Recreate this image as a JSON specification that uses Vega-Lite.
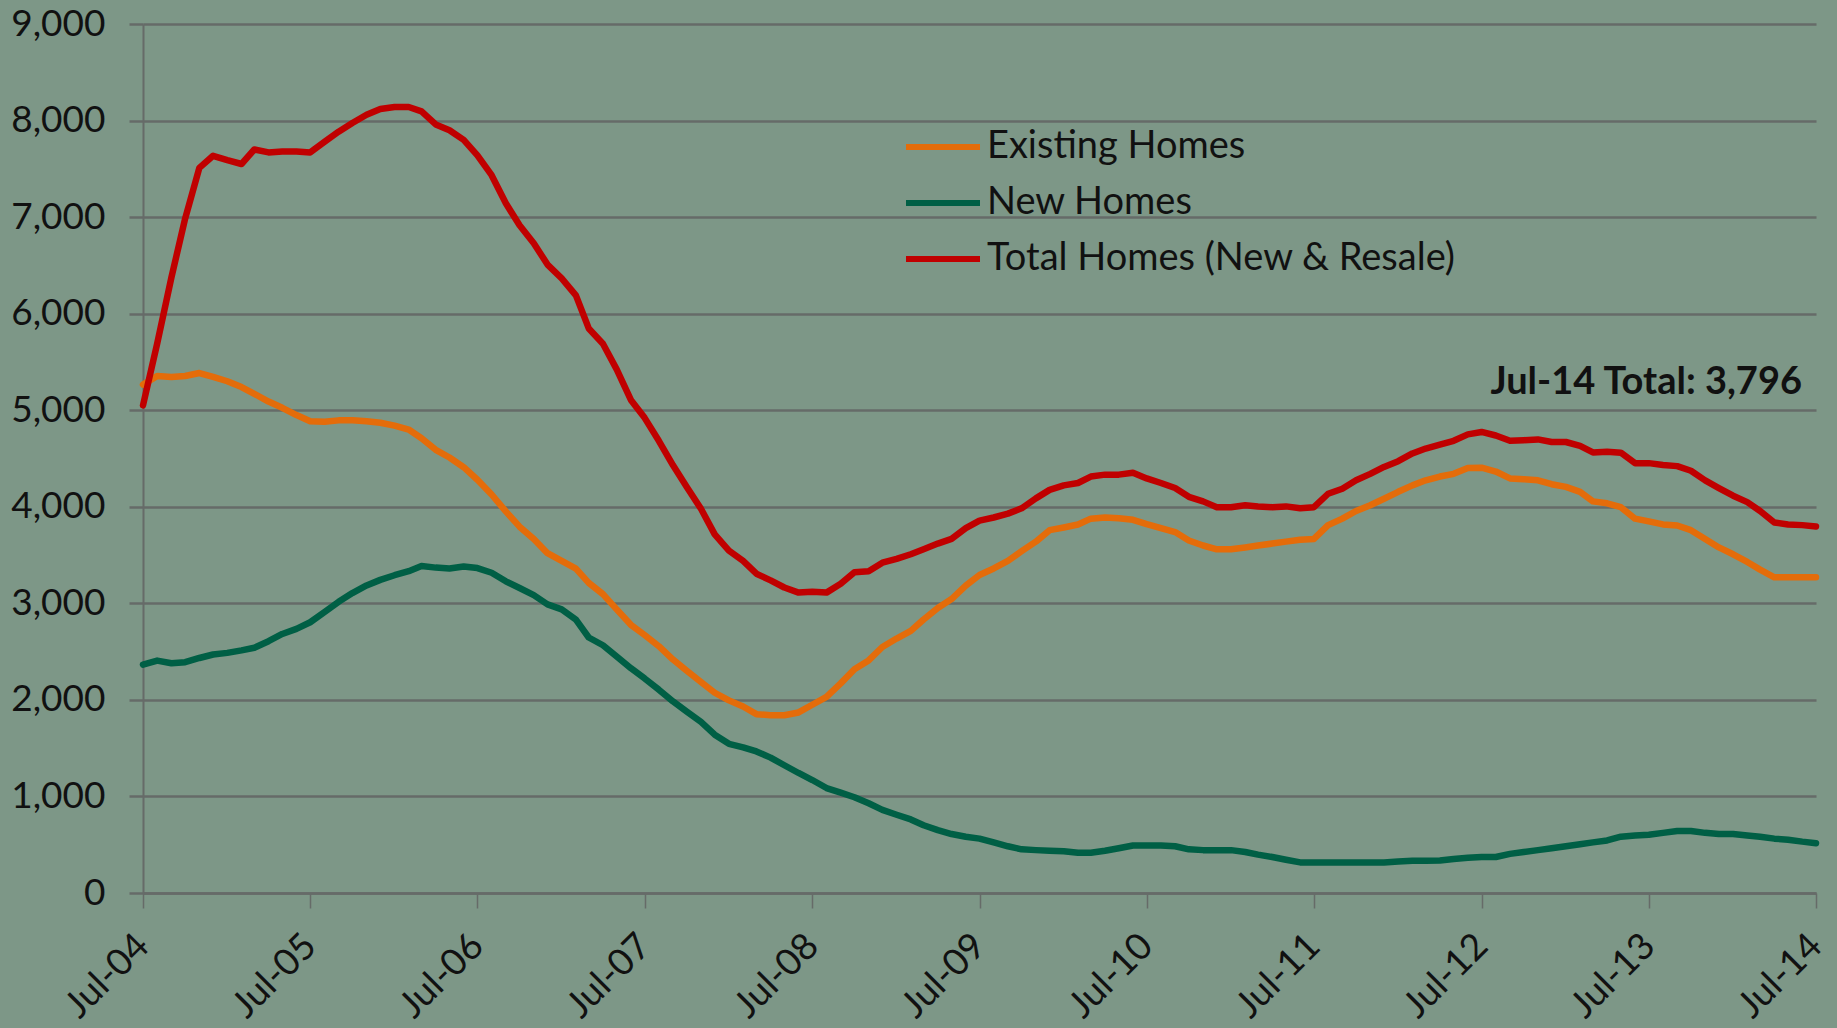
{
  "$schema": "https://vega.github.io/schema/vega-lite/v6.json",
  "width": 1673,
  "height": 869,
  "autosize": {"type": "none"},
  "padding": {"left": 143, "top": 24, "right": 21, "bottom": 135},
  "background": "#7D9787",
  "config": {
    "view": {"stroke": null},
    "font": "Lato",
    "axis": {"labelFont": "Lato", "labelColor": "#111111", "titleColor": "#111111"}
  },
  "datasets": {
    "existing": [
      {"date":"2004-07-01","value":5265},{"date":"2004-08-01","value":5355},{"date":"2004-09-01","value":5345},{"date":"2004-10-01","value":5355},{"date":"2004-11-01","value":5385},{"date":"2004-12-01","value":5345},
      {"date":"2005-01-01","value":5300},{"date":"2005-02-01","value":5240},{"date":"2005-03-01","value":5170},{"date":"2005-04-01","value":5090},{"date":"2005-05-01","value":5025},{"date":"2005-06-01","value":4950},{"date":"2005-07-01","value":4885},{"date":"2005-08-01","value":4880},{"date":"2005-09-01","value":4895},{"date":"2005-10-01","value":4895},{"date":"2005-11-01","value":4885},{"date":"2005-12-01","value":4870},
      {"date":"2006-01-01","value":4840},{"date":"2006-02-01","value":4800},{"date":"2006-03-01","value":4710},{"date":"2006-04-01","value":4590},{"date":"2006-05-01","value":4510},{"date":"2006-06-01","value":4410},{"date":"2006-07-01","value":4280},{"date":"2006-08-01","value":4127},{"date":"2006-09-01","value":3952},{"date":"2006-10-01","value":3794},{"date":"2006-11-01","value":3667},{"date":"2006-12-01","value":3519},
      {"date":"2007-01-01","value":3439},{"date":"2007-02-01","value":3360},{"date":"2007-03-01","value":3212},{"date":"2007-04-01","value":3095},{"date":"2007-05-01","value":2937},{"date":"2007-06-01","value":2778},{"date":"2007-07-01","value":2672},{"date":"2007-08-01","value":2556},{"date":"2007-09-01","value":2418},{"date":"2007-10-01","value":2302},{"date":"2007-11-01","value":2185},{"date":"2007-12-01","value":2074},
      {"date":"2008-01-01","value":1995},{"date":"2008-02-01","value":1931},{"date":"2008-03-01","value":1852},{"date":"2008-04-01","value":1841},{"date":"2008-05-01","value":1841},{"date":"2008-06-01","value":1870},{"date":"2008-07-01","value":1950},{"date":"2008-08-01","value":2032},{"date":"2008-09-01","value":2171},{"date":"2008-10-01","value":2317},{"date":"2008-11-01","value":2409},{"date":"2008-12-01","value":2548},
      {"date":"2009-01-01","value":2635},{"date":"2009-02-01","value":2714},{"date":"2009-03-01","value":2833},{"date":"2009-04-01","value":2952},{"date":"2009-05-01","value":3044},{"date":"2009-06-01","value":3183},{"date":"2009-07-01","value":3294},{"date":"2009-08-01","value":3361},{"date":"2009-09-01","value":3440},{"date":"2009-10-01","value":3540},{"date":"2009-11-01","value":3639},{"date":"2009-12-01","value":3758},
      {"date":"2010-01-01","value":3786},{"date":"2010-02-01","value":3817},{"date":"2010-03-01","value":3877},{"date":"2010-04-01","value":3889},{"date":"2010-05-01","value":3881},{"date":"2010-06-01","value":3865},{"date":"2010-07-01","value":3820},{"date":"2010-08-01","value":3778},{"date":"2010-09-01","value":3738},{"date":"2010-10-01","value":3651},{"date":"2010-11-01","value":3599},{"date":"2010-12-01","value":3560},
      {"date":"2011-01-01","value":3560},{"date":"2011-02-01","value":3579},{"date":"2011-03-01","value":3599},{"date":"2011-04-01","value":3619},{"date":"2011-05-01","value":3639},{"date":"2011-06-01","value":3659},{"date":"2011-07-01","value":3667},{"date":"2011-08-01","value":3810},{"date":"2011-09-01","value":3877},{"date":"2011-10-01","value":3956},{"date":"2011-11-01","value":4016},{"date":"2011-12-01","value":4083},
      {"date":"2012-01-01","value":4155},{"date":"2012-02-01","value":4222},{"date":"2012-03-01","value":4274},{"date":"2012-04-01","value":4313},{"date":"2012-05-01","value":4341},{"date":"2012-06-01","value":4401},{"date":"2012-07-01","value":4405},{"date":"2012-08-01","value":4365},{"date":"2012-09-01","value":4294},{"date":"2012-10-01","value":4286},{"date":"2012-11-01","value":4274},{"date":"2012-12-01","value":4234},
      {"date":"2013-01-01","value":4206},{"date":"2013-02-01","value":4155},{"date":"2013-03-01","value":4056},{"date":"2013-04-01","value":4036},{"date":"2013-05-01","value":3996},{"date":"2013-06-01","value":3877},{"date":"2013-07-01","value":3849},{"date":"2013-08-01","value":3817},{"date":"2013-09-01","value":3806},{"date":"2013-10-01","value":3758},{"date":"2013-11-01","value":3667},{"date":"2013-12-01","value":3579},
      {"date":"2014-01-01","value":3508},{"date":"2014-02-01","value":3429},{"date":"2014-03-01","value":3349},{"date":"2014-04-01","value":3270},{"date":"2014-05-01","value":3270},{"date":"2014-06-01","value":3270},{"date":"2014-07-01","value":3270}
    ],
    "newhomes": [
      {"date":"2004-07-01","value":2365},{"date":"2004-08-01","value":2407},{"date":"2004-09-01","value":2380},{"date":"2004-10-01","value":2390},{"date":"2004-11-01","value":2434},{"date":"2004-12-01","value":2470},
      {"date":"2005-01-01","value":2487},{"date":"2005-02-01","value":2513},{"date":"2005-03-01","value":2540},{"date":"2005-04-01","value":2608},{"date":"2005-05-01","value":2683},{"date":"2005-06-01","value":2735},{"date":"2005-07-01","value":2804},{"date":"2005-08-01","value":2910},{"date":"2005-09-01","value":3016},{"date":"2005-10-01","value":3106},{"date":"2005-11-01","value":3185},{"date":"2005-12-01","value":3243},
      {"date":"2006-01-01","value":3291},{"date":"2006-02-01","value":3333},{"date":"2006-03-01","value":3386},{"date":"2006-04-01","value":3370},{"date":"2006-05-01","value":3360},{"date":"2006-06-01","value":3381},{"date":"2006-07-01","value":3365},{"date":"2006-08-01","value":3317},{"date":"2006-09-01","value":3228},{"date":"2006-10-01","value":3159},{"date":"2006-11-01","value":3085},{"date":"2006-12-01","value":2989},
      {"date":"2007-01-01","value":2937},{"date":"2007-02-01","value":2831},{"date":"2007-03-01","value":2646},{"date":"2007-04-01","value":2566},{"date":"2007-05-01","value":2450},{"date":"2007-06-01","value":2328},{"date":"2007-07-01","value":2222},{"date":"2007-08-01","value":2106},{"date":"2007-09-01","value":1984},{"date":"2007-10-01","value":1878},{"date":"2007-11-01","value":1772},{"date":"2007-12-01","value":1640},
      {"date":"2008-01-01","value":1545},{"date":"2008-02-01","value":1508},{"date":"2008-03-01","value":1466},{"date":"2008-04-01","value":1402},{"date":"2008-05-01","value":1323},{"date":"2008-06-01","value":1243},{"date":"2008-07-01","value":1170},{"date":"2008-08-01","value":1087},{"date":"2008-09-01","value":1040},{"date":"2008-10-01","value":992},{"date":"2008-11-01","value":929},{"date":"2008-12-01","value":861},
      {"date":"2009-01-01","value":810},{"date":"2009-02-01","value":762},{"date":"2009-03-01","value":702},{"date":"2009-04-01","value":651},{"date":"2009-05-01","value":611},{"date":"2009-06-01","value":583},{"date":"2009-07-01","value":563},{"date":"2009-08-01","value":524},{"date":"2009-09-01","value":484},{"date":"2009-10-01","value":452},{"date":"2009-11-01","value":444},{"date":"2009-12-01","value":437},
      {"date":"2010-01-01","value":433},{"date":"2010-02-01","value":417},{"date":"2010-03-01","value":417},{"date":"2010-04-01","value":437},{"date":"2010-05-01","value":464},{"date":"2010-06-01","value":492},{"date":"2010-07-01","value":492},{"date":"2010-08-01","value":492},{"date":"2010-09-01","value":484},{"date":"2010-10-01","value":452},{"date":"2010-11-01","value":444},{"date":"2010-12-01","value":444},
      {"date":"2011-01-01","value":444},{"date":"2011-02-01","value":425},{"date":"2011-03-01","value":397},{"date":"2011-04-01","value":373},{"date":"2011-05-01","value":345},{"date":"2011-06-01","value":317},{"date":"2011-07-01","value":317},{"date":"2011-08-01","value":317},{"date":"2011-09-01","value":317},{"date":"2011-10-01","value":317},{"date":"2011-11-01","value":317},{"date":"2011-12-01","value":317},
      {"date":"2012-01-01","value":325},{"date":"2012-02-01","value":333},{"date":"2012-03-01","value":333},{"date":"2012-04-01","value":337},{"date":"2012-05-01","value":353},{"date":"2012-06-01","value":365},{"date":"2012-07-01","value":373},{"date":"2012-08-01","value":373},{"date":"2012-09-01","value":405},{"date":"2012-10-01","value":425},{"date":"2012-11-01","value":444},{"date":"2012-12-01","value":464},
      {"date":"2013-01-01","value":484},{"date":"2013-02-01","value":504},{"date":"2013-03-01","value":524},{"date":"2013-04-01","value":544},{"date":"2013-05-01","value":583},{"date":"2013-06-01","value":595},{"date":"2013-07-01","value":603},{"date":"2013-08-01","value":623},{"date":"2013-09-01","value":643},{"date":"2013-10-01","value":643},{"date":"2013-11-01","value":623},{"date":"2013-12-01","value":611},
      {"date":"2014-01-01","value":611},{"date":"2014-02-01","value":595},{"date":"2014-03-01","value":583},{"date":"2014-04-01","value":563},{"date":"2014-05-01","value":552},{"date":"2014-06-01","value":532},{"date":"2014-07-01","value":516}
    ],
    "total": [
      {"date":"2004-07-01","value":5050},{"date":"2004-08-01","value":5690},{"date":"2004-09-01","value":6375},{"date":"2004-10-01","value":6985},{"date":"2004-11-01","value":7510},{"date":"2004-12-01","value":7635},
      {"date":"2005-01-01","value":7590},{"date":"2005-02-01","value":7550},{"date":"2005-03-01","value":7700},{"date":"2005-04-01","value":7670},{"date":"2005-05-01","value":7680},{"date":"2005-06-01","value":7680},{"date":"2005-07-01","value":7670},{"date":"2005-08-01","value":7780},{"date":"2005-09-01","value":7885},{"date":"2005-10-01","value":7975},{"date":"2005-11-01","value":8060},{"date":"2005-12-01","value":8120},
      {"date":"2006-01-01","value":8140},{"date":"2006-02-01","value":8140},{"date":"2006-03-01","value":8095},{"date":"2006-04-01","value":7960},{"date":"2006-05-01","value":7900},{"date":"2006-06-01","value":7800},{"date":"2006-07-01","value":7640},{"date":"2006-08-01","value":7434},{"date":"2006-09-01","value":7143},{"date":"2006-10-01","value":6915},{"date":"2006-11-01","value":6730},{"date":"2006-12-01","value":6508},
      {"date":"2007-01-01","value":6365},{"date":"2007-02-01","value":6190},{"date":"2007-03-01","value":5847},{"date":"2007-04-01","value":5688},{"date":"2007-05-01","value":5423},{"date":"2007-06-01","value":5106},{"date":"2007-07-01","value":4921},{"date":"2007-08-01","value":4683},{"date":"2007-09-01","value":4429},{"date":"2007-10-01","value":4206},{"date":"2007-11-01","value":3979},{"date":"2007-12-01","value":3714},
      {"date":"2008-01-01","value":3545},{"date":"2008-02-01","value":3439},{"date":"2008-03-01","value":3307},{"date":"2008-04-01","value":3238},{"date":"2008-05-01","value":3164},{"date":"2008-06-01","value":3111},{"date":"2008-07-01","value":3120},{"date":"2008-08-01","value":3111},{"date":"2008-09-01","value":3202},{"date":"2008-10-01","value":3321},{"date":"2008-11-01","value":3333},{"date":"2008-12-01","value":3421},
      {"date":"2009-01-01","value":3460},{"date":"2009-02-01","value":3508},{"date":"2009-03-01","value":3560},{"date":"2009-04-01","value":3619},{"date":"2009-05-01","value":3667},{"date":"2009-06-01","value":3778},{"date":"2009-07-01","value":3857},{"date":"2009-08-01","value":3889},{"date":"2009-09-01","value":3929},{"date":"2009-10-01","value":3984},{"date":"2009-11-01","value":4087},{"date":"2009-12-01","value":4175},
      {"date":"2010-01-01","value":4222},{"date":"2010-02-01","value":4246},{"date":"2010-03-01","value":4313},{"date":"2010-04-01","value":4333},{"date":"2010-05-01","value":4333},{"date":"2010-06-01","value":4353},{"date":"2010-07-01","value":4294},{"date":"2010-08-01","value":4246},{"date":"2010-09-01","value":4194},{"date":"2010-10-01","value":4103},{"date":"2010-11-01","value":4056},{"date":"2010-12-01","value":3996},
      {"date":"2011-01-01","value":3996},{"date":"2011-02-01","value":4016},{"date":"2011-03-01","value":4004},{"date":"2011-04-01","value":3996},{"date":"2011-05-01","value":4004},{"date":"2011-06-01","value":3984},{"date":"2011-07-01","value":3996},{"date":"2011-08-01","value":4135},{"date":"2011-09-01","value":4187},{"date":"2011-10-01","value":4274},{"date":"2011-11-01","value":4341},{"date":"2011-12-01","value":4413},
      {"date":"2012-01-01","value":4472},{"date":"2012-02-01","value":4552},{"date":"2012-03-01","value":4603},{"date":"2012-04-01","value":4643},{"date":"2012-05-01","value":4683},{"date":"2012-06-01","value":4750},{"date":"2012-07-01","value":4775},{"date":"2012-08-01","value":4738},{"date":"2012-09-01","value":4683},{"date":"2012-10-01","value":4690},{"date":"2012-11-01","value":4698},{"date":"2012-12-01","value":4671},
      {"date":"2013-01-01","value":4671},{"date":"2013-02-01","value":4631},{"date":"2013-03-01","value":4563},{"date":"2013-04-01","value":4571},{"date":"2013-05-01","value":4560},{"date":"2013-06-01","value":4452},{"date":"2013-07-01","value":4452},{"date":"2013-08-01","value":4433},{"date":"2013-09-01","value":4421},{"date":"2013-10-01","value":4373},{"date":"2013-11-01","value":4274},{"date":"2013-12-01","value":4194},
      {"date":"2014-01-01","value":4115},{"date":"2014-02-01","value":4048},{"date":"2014-03-01","value":3956},{"date":"2014-04-01","value":3837},{"date":"2014-05-01","value":3817},{"date":"2014-06-01","value":3810},{"date":"2014-07-01","value":3796}
    ],
    "note": [
      {"date":"2014-07-01","value":3796,"label":"Jul-14 Total: 3,796"}
    ]
  },
  "encoding": {
    "x": {
      "field": "date",
      "type": "temporal",
      "scale": {
        "type": "utc",
        "domain": [
          {"year": 2004, "month": 7, "date": 1, "utc": true},
          {"year": 2014, "month": 7, "date": 1, "utc": true}
        ]
      },
      "axis": {
        "title": null,
        "values": [
          {"year": 2004, "month": 7, "date": 1, "utc": true},
          {"year": 2005, "month": 7, "date": 1, "utc": true},
          {"year": 2006, "month": 7, "date": 1, "utc": true},
          {"year": 2007, "month": 7, "date": 1, "utc": true},
          {"year": 2008, "month": 7, "date": 1, "utc": true},
          {"year": 2009, "month": 7, "date": 1, "utc": true},
          {"year": 2010, "month": 7, "date": 1, "utc": true},
          {"year": 2011, "month": 7, "date": 1, "utc": true},
          {"year": 2012, "month": 7, "date": 1, "utc": true},
          {"year": 2013, "month": 7, "date": 1, "utc": true},
          {"year": 2014, "month": 7, "date": 1, "utc": true}
        ],
        "labelExpr": "utcFormat(datum.value, '%b-%y')",
        "grid": false,
        "domain": true,
        "domainColor": "#666b68",
        "domainWidth": 2.5,
        "ticks": true,
        "tickSize": 15,
        "tickColor": "#666b68",
        "tickWidth": 1.5,
        "labelAngle": -45,
        "labelAlign": "right",
        "labelBaseline": "middle",
        "labelPadding": 32,
        "labelFontSize": 37,
        "labelOverlap": false,
        "labelBound": false,
        "labelFlush": false
      }
    },
    "y": {
      "field": "value",
      "type": "quantitative",
      "scale": {"domain": [0, 9000], "nice": false, "zero": true},
      "axis": {
        "title": null,
        "values": [0, 1000, 2000, 3000, 4000, 5000, 6000, 7000, 8000, 9000],
        "format": ",.0f",
        "grid": true,
        "gridColor": "#666b68",
        "gridWidth": 2.5,
        "domain": true,
        "domainColor": "#666b68",
        "domainWidth": 2,
        "ticks": true,
        "tickSize": 14,
        "tickColor": "#666b68",
        "tickWidth": 2.5,
        "labelFontSize": 37,
        "labelPadding": 24,
        "labelFlush": false,
        "labelOverlap": false
      }
    }
  },
  "layer": [
    {
      "data": {"name": "existing"},
      "mark": {"type": "line", "strokeWidth": 6.5, "strokeJoin": "round", "strokeCap": "round"},
      "encoding": {
        "color": {
          "datum": "Existing Homes",
          "type": "nominal",
          "scale": {
            "domain": ["Existing Homes", "New Homes", "Total Homes (New & Resale)"],
            "range": ["#E46C0A", "#005F45", "#C00000"]
          },
          "legend": {
            "title": null,
            "orient": "none",
            "legendX": 760,
            "legendY": 95,
            "symbolType": "stroke",
            "symbolSize": 5476,
            "symbolStrokeWidth": 6,
            "labelFontSize": 38,
            "labelFont": "Lato",
            "labelColor": "#111111",
            "labelOffset": 4,
            "labelLimit": 0,
            "clipHeight": 56,
            "rowPadding": 0
          }
        }
      }
    },
    {
      "data": {"name": "newhomes"},
      "mark": {"type": "line", "strokeWidth": 6.5, "strokeJoin": "round", "strokeCap": "round"},
      "encoding": {"color": {"datum": "New Homes", "type": "nominal"}}
    },
    {
      "data": {"name": "total"},
      "mark": {"type": "line", "strokeWidth": 6.5, "strokeJoin": "round", "strokeCap": "round"},
      "encoding": {"color": {"datum": "Total Homes (New & Resale)", "type": "nominal"}}
    },
    {
      "data": {"name": "note"},
      "mark": {"type": "text", "align": "right", "baseline": "middle", "dx": -14, "dy": -143, "fontSize": 38, "fontWeight": "bold", "font": "Lato", "color": "#111111"},
      "encoding": {"text": {"field": "label"}}
    }
  ]
}
